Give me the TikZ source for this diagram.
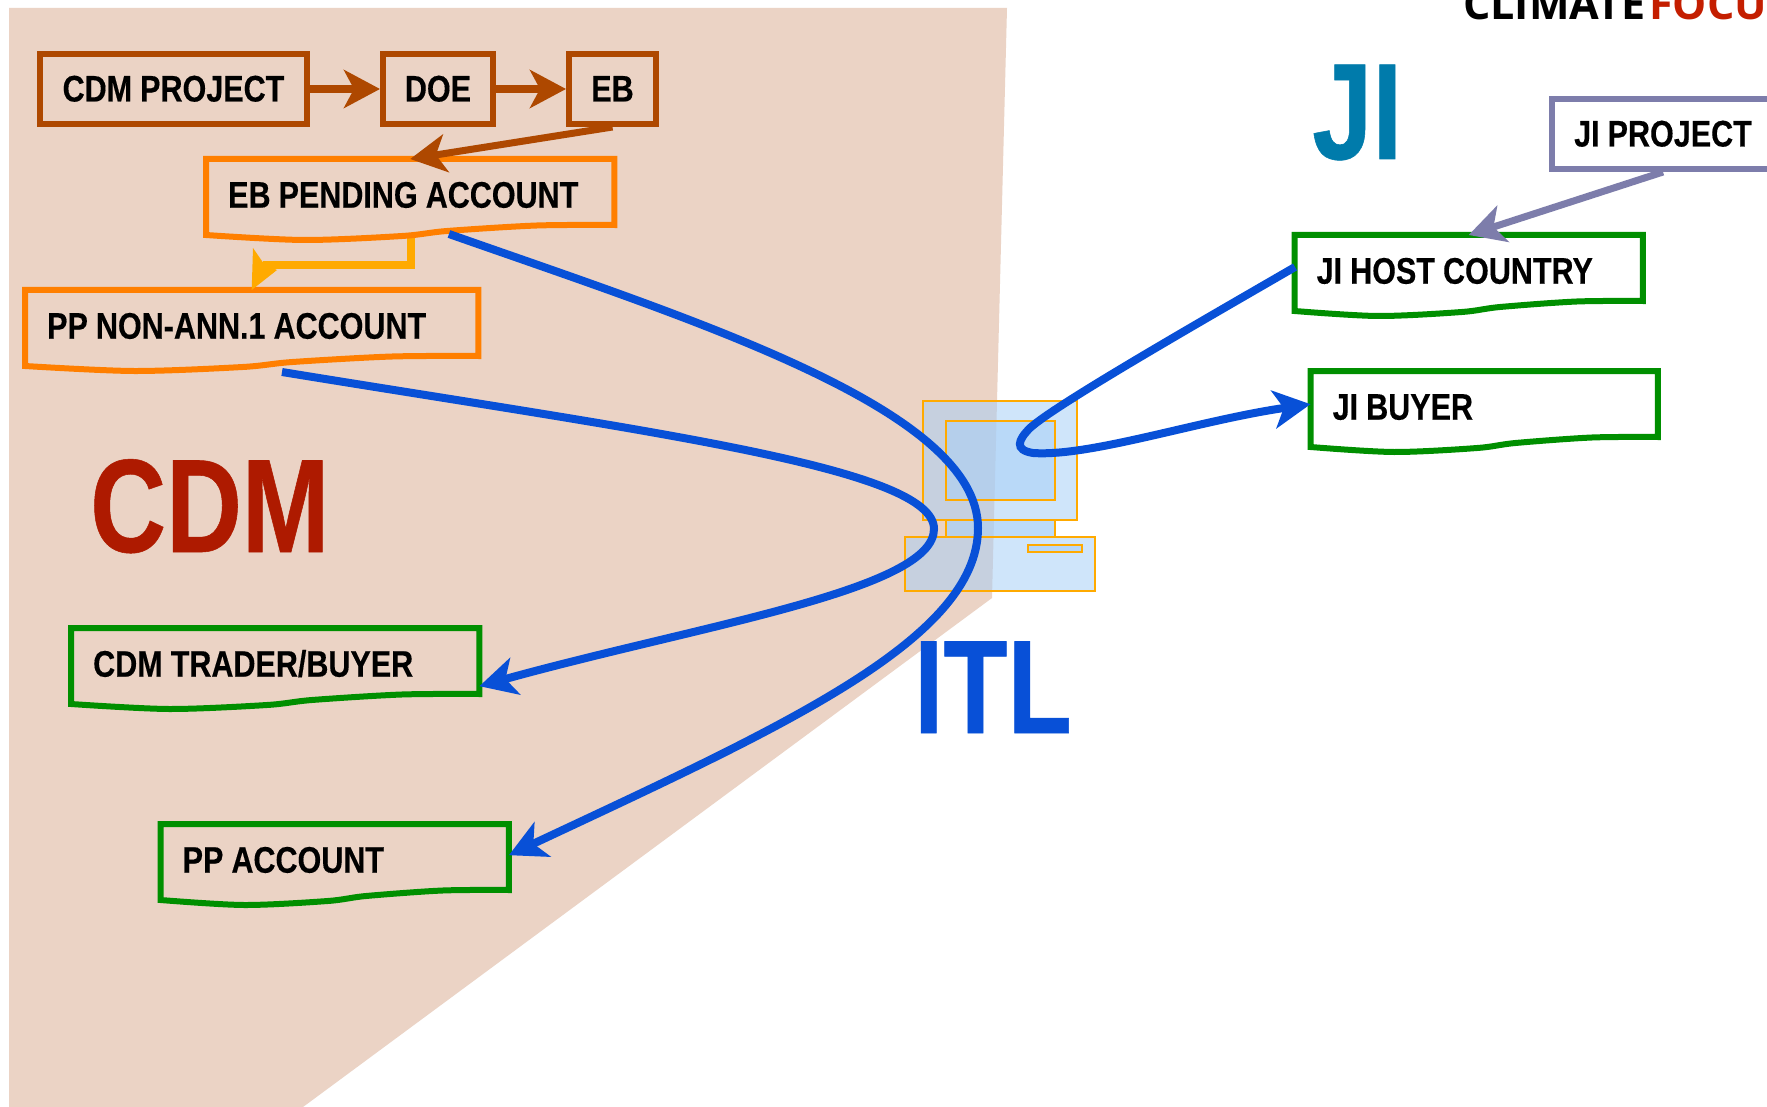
\documentclass[tikz,border=0pt]{standalone}
\usepackage{fontspec}
\usetikzlibrary{arrows.meta,calc}
\newfontfamily\labfont[FakeStretch=0.825,FakeBold=0.3,WordSpace=0.95]{Liberation Sans Bold}
\newfontfamily\bigfont[FakeStretch=0.79,FakeBold=0.4]{Liberation Sans Bold}
\newfontfamily\logofont{Open Sans}
\definecolor{bgc}{RGB}{235,211,197}
\definecolor{brownc}{RGB}{174,72,0}
\definecolor{orangec}{RGB}{255,127,0}
\definecolor{yellowc}{RGB}{255,170,0}
\definecolor{greenc}{RGB}{0,143,0}
\definecolor{violetc}{RGB}{125,125,171}
\definecolor{bluec}{RGB}{8,80,215}
\definecolor{pcfill}{RGB}{166,207,247}
\definecolor{cdmred}{RGB}{174,26,0}
\definecolor{jiteal}{RGB}{0,123,171}
\definecolor{logored}{RGB}{196,30,0}
\tikzset{
  lab/.style={font=\labfont\fontsize{37}{40}\selectfont,text=black,text height=27pt,text depth=2pt},
  plainbox/.style={lab,draw,line width=6pt,anchor=north west,inner sep=0pt},
  doctext/.style={lab,anchor=north west,inner ysep=0pt,inner xsep=22pt},
  docline/.style={draw,line width=6pt,line join=miter},
  bluecurve/.style={draw=bluec,line width=8pt},
  bluearrow/.style={bluecurve,-{Stealth[length=37pt,width=38pt,inset=10pt]}},
  brownarrow/.style={draw=brownc,line width=8pt,-{Stealth[length=36pt,width=38pt,inset=10pt]}},
  pcpart/.style={draw=yellowc,line width=1.7pt,fill=pcfill,fill opacity=.53},
  bigtext/.style={font=\bigfont\fontsize{133}{137}\selectfont,inner sep=0pt,anchor=base west},
}
% name, x, y, width, colour, text : the shape has a wavy lower edge
\newcommand{\docbox}[6]{%
  \node[doctext,minimum height=72pt] (#1) at (#2,#3) {\makebox[\dimexpr#4pt-44pt\relax][l]{#6}};
  \coordinate (#1a) at ($(#1.north west)!1!(#1.north east)+(0,66)$);
  \coordinate (#1b) at ($(#1.north west)!.81!(#1.north east)+(0,66.5)$);
  \coordinate (#1c) at ($(#1.north west)!.59!(#1.north east)+(0,72)$);
  \coordinate (#1d) at ($(#1.north west)!.48!(#1.north east)+(0,77)$);
  \coordinate (#1e) at ($(#1.north west)!.24!(#1.north east)+(0,81)$);
  \coordinate (#1f) at ($(#1.north west)+(0,76)$);
  \draw[docline,#5] (#1.north west) -- (#1.north east) -- (#1a) -- plot[smooth,tension=.5] coordinates {(#1a) (#1b) (#1c) (#1d) (#1e) (#1f)} -- cycle;
}
\begin{document}
\begin{tikzpicture}[x=1pt,y=-1pt]
\path[use as bounding box,clip] (0,0) rectangle (1767,1107);
\fill[white] (0,0) rectangle (1767,1107);
\fill[bgc] (9,8) -- (1007,8) -- (992,598) -- (303,1107) -- (9,1107) -- cycle;
% computer
\path[pcpart] (923,401) rectangle (1077,520);
\path[pcpart] (946,421) rectangle (1055,500);
\path[pcpart,fill opacity=.75] (946,520) rectangle (1055,537);
\path[pcpart] (905,537) rectangle (1095,591);
\path[pcpart,fill opacity=.6] (1028,545) rectangle (1082,552);
% boxes
\node[plainbox,draw=brownc,minimum width=267pt,minimum height=70pt] (cdmp) at (37,51) {CDM PROJECT};
\node[plainbox,draw=brownc,minimum width=110pt,minimum height=70pt] (doe) at (380,51) {DOE};
\node[plainbox,draw=brownc,minimum width=87pt,minimum height=70pt] (eb) at (566,51) {EB};
\coordinate (ebout) at (411,236);
\coordinate (elbow) at (263,265);
\draw[draw=yellowc,line width=8pt] (ebout) |- (elbow);
\docbox{ebp}{206}{159}{408}{orangec}{EB PENDING ACCOUNT}
\docbox{ppn}{25}{290}{453}{orangec}{PP NON-ANN.1 ACCOUNT}
\docbox{trader}{71}{628}{408}{greenc}{CDM TRADER/BUYER}
\docbox{ppa}{160.5}{824}{348}{greenc}{PP ACCOUNT}
\docbox{jih}{1294.5}{235}{348}{greenc}{JI HOST COUNTRY}
\docbox{jib}{1310.5}{371}{347}{greenc}{JI BUYER}
\node[plainbox,draw=violetc,minimum width=222pt,minimum height=70pt] (jip) at (1549,96) {JI PROJECT};
% brown and violet connectors
\draw[brownarrow] (cdmp.east) -- (doe.west);
\draw[brownarrow] (doe.east) -- (eb.west);
\draw[brownarrow,line width=7pt] (eb.south) -- (ebp.north);
\draw[brownarrow,draw=violetc,line width=7pt] (jip.south) -- (jih.north);
% yellow arrowhead
\fill[yellowc] (ppn.north) -- (253,248) -- (264,264) -- (277,270) -- cycle;
% blue curves
\coordinate (s1) at (449,234);
\coordinate (a1) at (978,528);
\coordinate (s2) at (282,372);
\coordinate (a2) at (934,529);
\coordinate (s3) at (1295,267);
\coordinate (p3) at (1030,428);
\coordinate (q3) at (1033,453);
\draw[bluearrow] (s1) .. controls (700,322) and (978,410) .. (a1) .. controls (978,640) and (780,728) .. ([yshift=5pt]ppa.east);
\draw[bluearrow] (s2) .. controls (650,432) and (934,468) .. (a2) .. controls (934,590) and (700,625) .. ([yshift=-22pt]trader.east);
\draw[bluearrow] (s3) .. controls (1200,322) and (1055,405) .. (p3) .. controls (1018,440) and (1014,450) .. (q3) .. controls (1090,457) and (1200,420) .. ([yshift=3pt]jib.west);
% big labels
\node[bigtext,text=cdmred] (cdmt) at (90,552) {CDM};
\node[bigtext,text=bluec] (itl) at (914,733) {ITL};
\node[bigtext,text=jiteal,font=\bigfont\fontsize{137}{140}\selectfont] (ji) at (1312,159) {JI};
% logo
\node[font=\logofont\bfseries\fontsize{43}{46}\selectfont,anchor=base west,inner sep=0pt] (logo) at (1463,20) {CLIMATE\kern 4pt\textcolor{logored}{FOCU}};
\end{tikzpicture}
\end{document}
